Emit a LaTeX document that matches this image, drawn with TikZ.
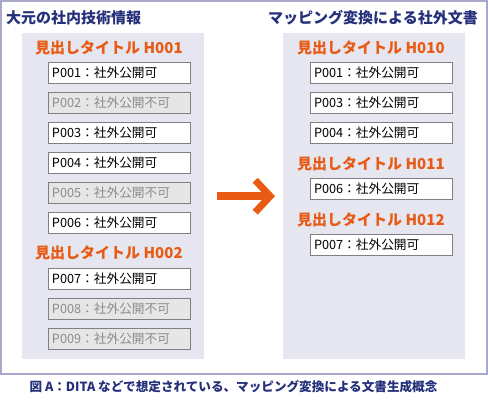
\documentclass[tikz,border=0pt]{standalone}
\usepackage{fontspec}
\setmainfont{Noto Sans CJK JP}
\usetikzlibrary{arrows.meta, positioning}
\definecolor{docnavy}{HTML}{25307A}
\definecolor{docorange}{HTML}{E95A14}
\definecolor{docpanel}{HTML}{E6E6F0}
\definecolor{docframe}{HTML}{A8A8CC}
\definecolor{docgrey}{HTML}{808080}
\definecolor{docoff}{HTML}{E6E6E6}
\definecolor{docofftext}{HTML}{8C8C8C}
\tikzset{
  docpanelbox/.style={fill=docpanel, draw=none, anchor=north west, inner sep=0pt,
    minimum width=182pt, minimum height=326pt},
  doctitle/.style={font=\fontsize{15}{18}\selectfont\bfseries, text=docnavy,
    inner sep=0pt, anchor=west},
  headtitle/.style={font=\fontsize{15}{18}\selectfont\bfseries, text=docorange,
    inner sep=0pt, anchor=west},
  parabox/.style={draw=docgrey, fill=white, line width=1pt, outer sep=0pt,
    text width=134pt, inner xsep=4pt, inner ysep=0pt, minimum height=21pt,
    align=left, font=\fontsize{12.7}{14}\selectfont},
  paraoff/.style={parabox, fill=docoff, text=docofftext},
  docarrow/.style={line width=8pt, docorange,
    -{Straight Barb[length=15pt, width=32pt, line width=7pt, line join=miter]}},
  captiontext/.style={font=\fontsize{12.6}{14}\selectfont\bfseries, text=docnavy, inner sep=0pt},
}

\begin{document}
\begin{tikzpicture}[x=1pt, y=-1pt, node distance=9pt]
  \useasboundingbox (0,0) rectangle (488,413);
  \draw[docframe, line width=1.5pt] (0.75,0.75) rectangle (487,374);
  \node[docpanelbox] (srcpanel) at (22,33) {};
  \node[docpanelbox] (dstpanel) at (283,33) {};
  \node[doctitle] (srctitle) at (6,18) {大元の社内技術情報};
  \node[doctitle] (dsttitle) at (268,18) {マッピング変換による社外文書};
  % left side
  \node[headtitle] (hsrc1) at (35,48) {見出しタイトル H001};
  \node[parabox, anchor=north west] (src001) at (48,62) {P001：社外公開可};
  \node[paraoff, below=of src001] (src002) {P002：社外公開不可};
  \node[parabox, below=of src002] (src003) {P003：社外公開可};
  \node[parabox, below=of src003] (src004) {P004：社外公開可};
  \node[paraoff, below=of src004] (src005) {P005：社外公開不可};
  \node[parabox, below=of src005] (src006) {P006：社外公開可};
  \node[headtitle] (hsrc2) at (35,253) {見出しタイトル H002};
  \node[parabox, below=35pt of src006] (src007) {P007：社外公開可};
  \node[paraoff, below=of src007] (src008) {P008：社外公開不可};
  \node[paraoff, below=of src008] (src009) {P009：社外公開不可};
  % right side
  \node[headtitle] (hdst10) at (297,48) {見出しタイトル H010};
  \node[parabox, anchor=north west] (dst001) at (310,62) {P001：社外公開可};
  \node[parabox, below=of dst001] (dst003) {P003：社外公開可};
  \node[parabox, below=of dst003] (dst004) {P004：社外公開可};
  \node[headtitle] (hdst11) at (297,164) {見出しタイトル H011};
  \node[parabox, below=35pt of dst004] (dst006) {P006：社外公開可};
  \node[headtitle] (hdst12) at (297,220) {見出しタイトル H012};
  \node[parabox, below=35pt of dst006] (dst007) {P007：社外公開可};
  \draw[docarrow, shorten <=13pt, shorten >=8pt] (srcpanel) -- (dstpanel);
  \node[captiontext] (caption) at (233.5,387) {図 A：DITA などで想定されている、マッピング変換による文書生成概念};
\end{tikzpicture}
\end{document}
